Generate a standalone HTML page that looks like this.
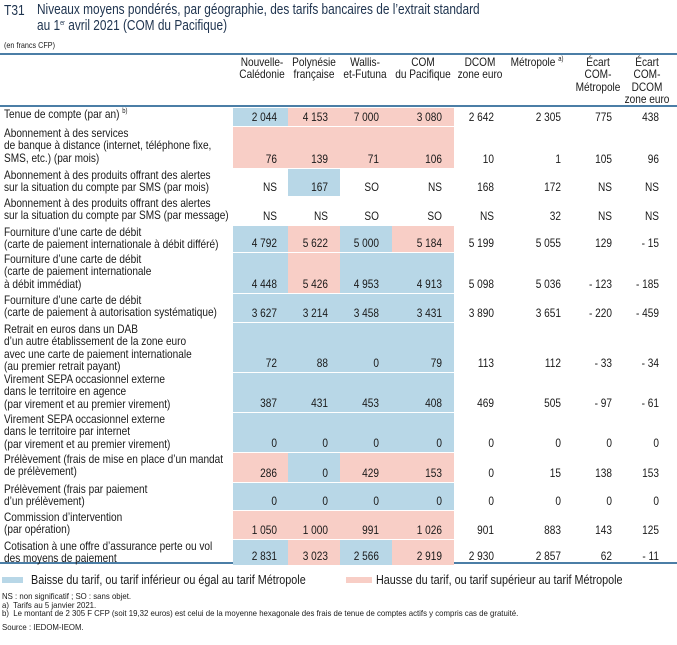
<!DOCTYPE html>
<html><head><meta charset="utf-8">
<style>
body{margin:0;width:677px;height:645px;background:#fff;overflow:hidden;position:relative;font-family:"Liberation Sans Narrow","Liberation Sans",sans-serif;color:#1a1a1a}
.a{position:absolute;white-space:nowrap}
.lbl{font-size:12px;line-height:12.3px;transform:scaleX(0.84);transform-origin:0 0}
.v{font-size:12px;line-height:12.3px;text-align:right;transform:scaleX(0.84);transform-origin:100% 0}
.h{font-size:12px;line-height:12.3px;text-align:center;transform:scaleX(0.84);transform-origin:50% 0}
.rule{position:absolute;left:0;width:677px;height:2px;background:#4b7ea6}
.cell{position:absolute}
sup{font-size:7px;vertical-align:5px;line-height:0}
</style></head><body>
<div class="a" style="left:4px;top:2px;font-size:15px;color:#203550;transform:scaleX(0.8);transform-origin:0 0">T31</div>
<div class="a" style="left:37px;top:2px;font-size:15px;line-height:16px;color:#203550;transform:scaleX(0.79);transform-origin:0 0">Niveaux moyens pondérés, par géographie, des tarifs bancaires de l’extrait standard<br>au 1<sup>er</sup> avril 2021 (COM du Pacifique)</div>
<div class="a" style="left:4px;top:40px;font-size:8.5px;transform:scaleX(0.85);transform-origin:0 0">(en francs CFP)</div>
<div class="rule" style="top:53px"></div>
<div class="rule" style="top:105px"></div>
<div class="rule" style="top:562px"></div>
<div id="tbl"></div>
<div class="a" style="left:2px;top:577px;width:21px;height:6px;background:#b8d7e7"></div>
<div class="a" style="left:31px;top:572px;font-size:13px;transform:scaleX(0.83);transform-origin:0 0">Baisse du tarif, ou tarif inférieur ou égal au tarif Métropole</div>
<div class="a" style="left:346px;top:577px;width:26px;height:6px;background:#f8cec6"></div>
<div class="a" style="left:376px;top:572px;font-size:13px;transform:scaleX(0.83);transform-origin:0 0">Hausse du tarif, ou tarif supérieur au tarif Métropole</div>
<div class="a" style="left:2px;top:592px;font-size:8.5px;line-height:8.5px;transform:scaleX(0.92);transform-origin:0 0">NS : non significatif ; SO : sans objet.<br>a)&nbsp; Tarifs au 5 janvier 2021.<br>b)&nbsp; Le montant de 2 305 F CFP (soit 19,32 euros) est celui de la moyenne hexagonale des frais de tenue de comptes actifs y compris cas de gratuité.</div>
<div class="a" style="left:2px;top:622px;font-size:8.5px;transform:scaleX(0.92);transform-origin:0 0">Source : IEDOM-IEOM.</div>
<script>
const headers=[["Nouvelle-","Calédonie"],["Polynésie","française"],["Wallis-","et-Futuna"],["COM","du Pacifique"],["DCOM","zone euro"],["Métropole <sup>a)</sup>"],["Écart","COM-","Métropole"],["Écart","COM-","DCOM","zone euro"]];
const labels=[
["Tenue de compte (par an) <sup>b)</sup>"],
["Abonnement à des services","de banque à distance (internet, téléphone fixe,","SMS, etc.) (par mois)"],
["Abonnement à des produits offrant des alertes","sur la situation du compte par SMS (par mois)"],
["Abonnement à des produits offrant des alertes","sur la situation du compte par SMS (par message)"],
["Fourniture d’une carte de débit","(carte de paiement internationale à débit différé)"],
["Fourniture d’une carte de débit","(carte de paiement internationale","à débit immédiat)"],
["Fourniture d’une carte de débit","(carte de paiement à autorisation systématique)"],
["Retrait en euros dans un DAB","d’un autre établissement de la zone euro","avec une carte de paiement internationale","(au premier retrait payant)"],
["Virement SEPA occasionnel externe","dans le territoire en agence","(par virement et au premier virement)"],
["Virement SEPA occasionnel externe","dans le territoire par internet","(par virement et au premier virement)"],
["Prélèvement (frais de mise en place d’un mandat","de prélèvement)"],
["Prélèvement (frais par paiement","d’un prélèvement)"],
["Commission d’intervention","(par opération)"],
["Cotisation à une offre d’assurance perte ou vol","des moyens de paiement"]];
const values=[
["2 044","4 153","7 000","3 080","2 642","2 305","775","438"],
["76","139","71","106","10","1","105","96"],
["NS","167","SO","NS","168","172","NS","NS"],
["NS","NS","SO","SO","NS","32","NS","NS"],
["4 792","5 622","5 000","5 184","5 199","5 055","129","- 15"],
["4 448","5 426","4 953","4 913","5 098","5 036","- 123","- 185"],
["3 627","3 214","3 458","3 431","3 890","3 651","- 220","- 459"],
["72","88","0","79","113","112","- 33","- 34"],
["387","431","453","408","469","505","- 97","- 61"],
["0","0","0","0","0","0","0","0"],
["286","0","429","153","0","15","138","153"],
["0","0","0","0","0","0","0","0"],
["1 050","1 000","991","1 026","901","883","143","125"],
["2 831","3 023","2 566","2 919","2 930","2 857","62","- 11"]];
const shading=["bppp","pppp","nbnn","nnnn","bpbp","bpbb","bbbb","bbbb","bbbb","bbbb","pbpp","bbbb","pppp","bpbp"];

const colCenter=[262,314,365,423,480,537,598,647];
const valRight=[277,328,379,442,494,561,612,659];
const cellEdges=[233,288,340,392,454];
const rowH=[19,42,28,29,27,41,29,50,40,40,30,28,29,26];
const LH=12.3;
const tbl=document.getElementById('tbl');
headers.forEach((h,i)=>{
 const d=document.createElement('div');
 
 
 d.className='a h';
 d.style.left=(colCenter[i]-40)+'px';d.style.width='80px';d.style.top='56px';
 d.innerHTML=h.join('<br>');
 tbl.appendChild(d);
});
let y=107;
labels.forEach((lab,r)=>{
 const h=rowH[r];
 for(let c=0;c<4;c++){
  const s=shading[r][c];
  if(s==='n')continue;
  const d=document.createElement('div');
  
  
  d.className='cell';
  d.style.left=cellEdges[c]+'px';d.style.width=(cellEdges[c+1]-cellEdges[c])+'px';
  d.style.top=(y+0.5)+'px';d.style.height=(h-1)+'px';
  d.style.background=s==='b'?'#b8d7e7':'#f8cec6';
  tbl.appendChild(d);
 }
 const l=document.createElement('div');
 
 
 l.className='a lbl';
 l.style.left='4px';l.style.top=(y+1)+'px';
 l.innerHTML=lab.join('<br>');
 tbl.appendChild(l);
 values[r].forEach((v,c)=>{
  const d=document.createElement('div');
  
  
  d.className='a v';
  d.style.left=(valRight[c]-60)+'px';d.style.width='60px';
  d.style.top=(y+h-15)+'px';
  d.textContent=v;
  tbl.appendChild(d);
 });
 y+=h;
});
</script>
</body></html>
